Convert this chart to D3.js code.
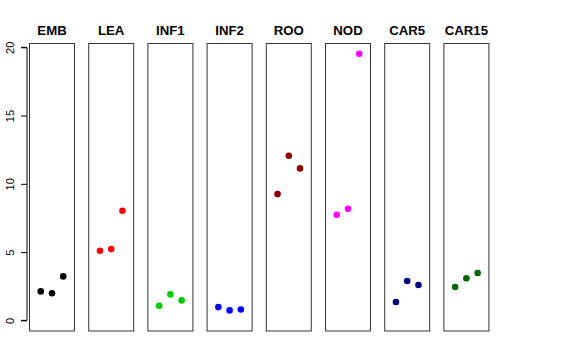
<!DOCTYPE html>
<html><head><meta charset="utf-8">
<script src="https://cdn.jsdelivr.net/npm/d3@7"></script>
<style>body{margin:0;background:#fff}svg{display:block}</style>
</head><body>
<script>
const categories = ["EMB","LEA","INF1","INF2","ROO","NOD","CAR5","CAR15"];
const colors = ["#000000","#FF0000","#00CD00","#0000FF","#8B0000","#FF00FF","#000080","#006400"];
const values = [
  [2.12, 1.98, 3.22],
  [5.10, 5.22, 8.03],
  [1.07, 1.90, 1.46],
  [0.97, 0.73, 0.80],
  [9.25, 12.06, 11.13],
  [7.74, 8.18, 19.53],
  [1.34, 2.88, 2.59],
  [2.44, 3.08, 3.47]
];
const yTicks = [0, 5, 10, 15, 20];

(function () {
const W = 576, H = 360;
const svg = d3.select("body").append("svg").attr("width", W).attr("height", H);

const pTop = 43.5, pBottom = 331, left0 = 29, panelW = 45, pitch = 59.2;
const y = d3.scaleLinear().domain([-0.78, 20.28]).range([pBottom, pTop]);
const xIn = d3.scaleLinear().domain([0, 4]).range([0, panelW]);

// y axis
const ax = svg.append("g").attr("transform", "translate(27,0)")
  .call(d3.axisLeft(y).tickValues(yTicks).tickSize(6).tickPadding(3).tickFormat(d3.format("d")));
ax.select(".domain").attr("d", `M-6,${y(0)}H0V${y(20)}H-6`).attr("stroke", "#000");
ax.selectAll(".tick line").attr("stroke", "#000");
ax.selectAll(".tick text")
  .attr("font-family", "Liberation Sans, Arial, sans-serif").attr("font-size", 11).attr("fill", "#000")
  .attr("transform", "rotate(-90)").attr("x", 0).attr("y", -13).attr("dy", 0)
  .attr("text-anchor", "middle");

categories.forEach((c, i) => {
  const g = svg.append("g").attr("transform", `translate(${left0 + i * pitch},0)`);
  g.append("rect").attr("x", 0.5).attr("y", pTop).attr("width", panelW).attr("height", pBottom - pTop)
    .attr("fill", "none").attr("stroke", "#333").attr("stroke-width", 1);
  g.append("text").attr("x", panelW / 2 + 0.5).attr("y", 34.5)
    .attr("text-anchor", "middle").attr("font-family", "Liberation Sans, Arial, sans-serif")
    .attr("font-weight", "bold").attr("font-size", 13.2).text(c);
  g.selectAll("circle").data(values[i]).enter().append("circle")
    .attr("cx", (d, j) => xIn(j + 1) + 0.5).attr("cy", d => y(d)).attr("r", 3.3)
    .attr("fill", colors[i]);
});
})();
</script>
</body></html>
